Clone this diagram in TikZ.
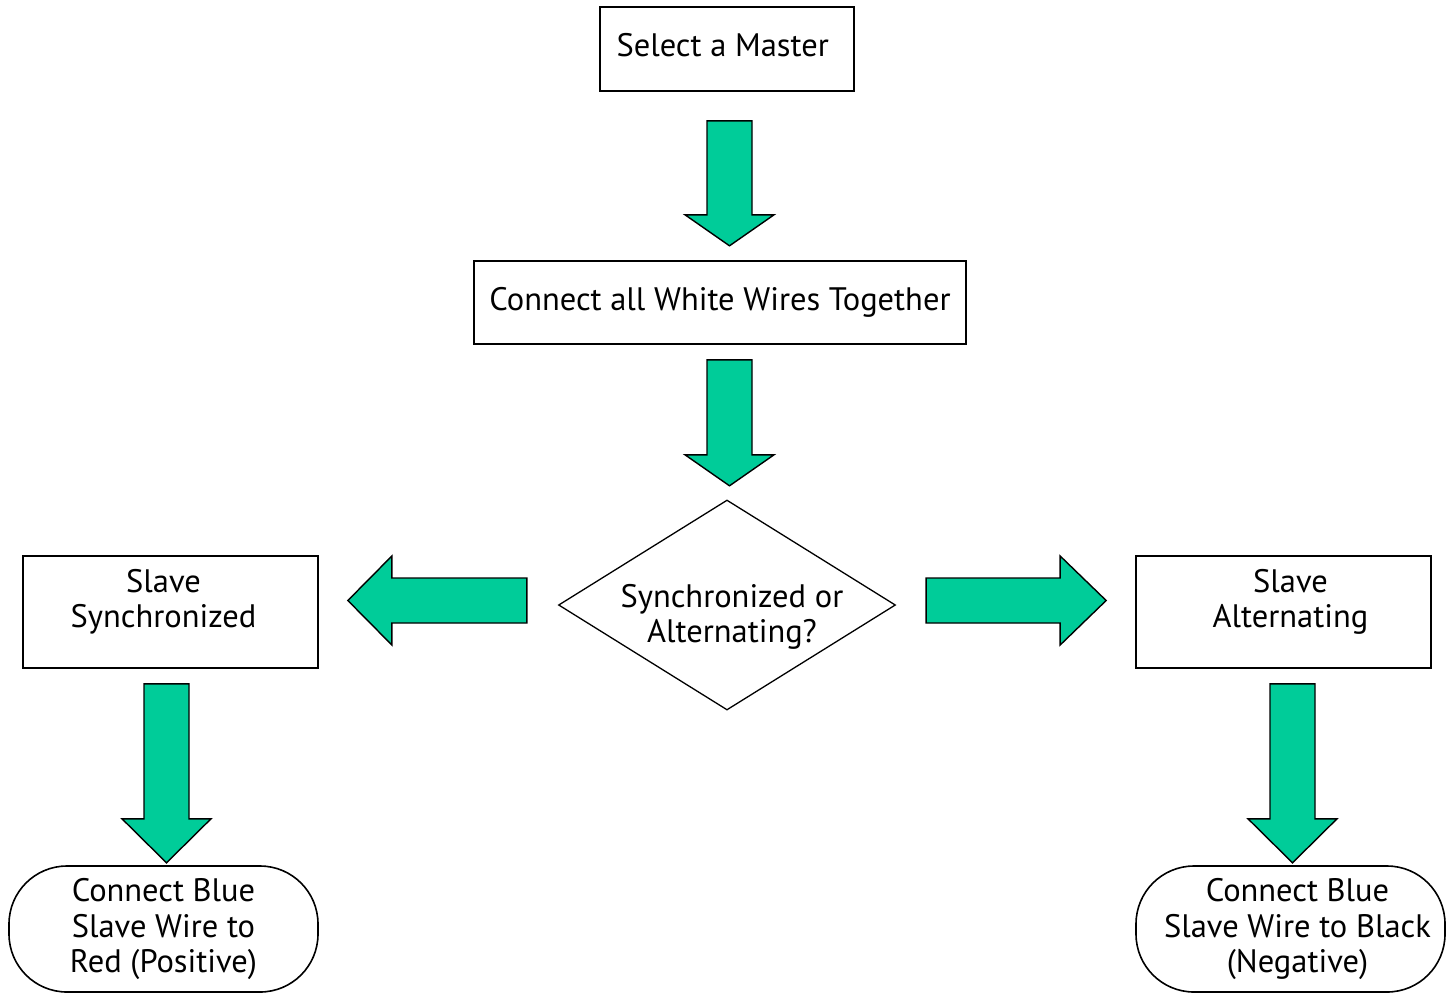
\documentclass[tikz,border=0pt]{standalone}
\usepackage{fontspec}
\setmainfont{PT Sans}
\usetikzlibrary{shapes.geometric}
\definecolor{arrowgreen}{RGB}{0,204,153}

\tikzset{
  box/.style={draw,line width=1.6pt,align=center,inner sep=0pt},
  terminal/.style={box,rounded corners=58pt},
  decision/.style={draw,line width=1.3pt,diamond,aspect=1.6,inner sep=0pt},
  arrowfill/.style={draw,line width=1.4pt,fill=arrowgreen},
  pics/fatarrow/.style 2 args={code={
    \draw[arrowfill] (0,-22.5) -- ({#1-#2},-22.5) -- ({#1-#2},-44.5) -- (#1,0)
      -- ({#1-#2},44.5) -- ({#1-#2},22.5) -- (0,22.5) -- cycle;
  }},
}

\begin{document}
\begin{tikzpicture}[x=1pt,y=-1pt,font=\fontsize{32.5}{35.5}\selectfont]
\useasboundingbox (0,0) rectangle (1454,994);

\node[box,minimum width=254pt,minimum height=84pt,text depth=8pt] (master) at (727,49) {Select a Master\ };
\node[box,minimum width=492pt,minimum height=83pt] (wires) at (720,302.5) {Connect all White Wires Together};
\node[decision,minimum width=337pt,minimum height=210pt] (choice) at (727,605)
  {\raisebox{-19pt}[0pt][0pt]{\begin{tabular}{@{\hspace{10pt}}c@{}}Synchronized or\\Alternating?\end{tabular}}};
\node[box,minimum width=295pt,minimum height=112pt] (sync) at (170.5,612) {Slave\kern14pt\\Synchronized\kern14pt\\[-8pt]\mbox{}};
\node[box,minimum width=295pt,minimum height=112pt] (alt) at (1283.5,612) {\kern14pt Slave\\\kern14pt Alternating\\[-8pt]\mbox{}};
\node[terminal,minimum width=309pt,minimum height=126pt] (red) at (163.5,929) {Connect Blue\\Slave Wire to\\Red (Positive)};
\node[terminal,minimum width=309pt,minimum height=126pt] (black) at (1290.5,929) {\kern14pt Connect Blue\\\kern14pt Slave Wire to Black\\\kern14pt (Negative)};

% block arrows
\path (master.south) ++(2.5,29) pic[rotate=-90] {fatarrow={125}{31}};
\path (wires.south) ++(9.5,15) pic[rotate=-90] {fatarrow={126}{31}};
\path (choice.west) ++(-31,-4.5) pic[rotate=180] {fatarrow={179}{44}};
\path (choice.east) ++(30,-4.5) pic {fatarrow={180}{46}};
\path (sync.south) ++(-4,15) pic[rotate=-90] {fatarrow={179}{44}};
\path (alt.south) ++(9,15) pic[rotate=-90] {fatarrow={179}{44}};
\end{tikzpicture}
\end{document}
